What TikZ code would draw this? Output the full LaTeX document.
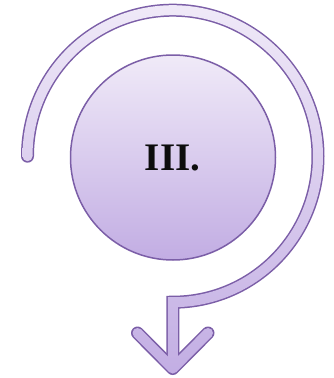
\documentclass[tikz,border=0pt]{standalone}
\usepackage{fontspec}
\setmainfont{Liberation Serif}
\usetikzlibrary{calc}
\definecolor{bord}{HTML}{7B5EA7}
\definecolor{topc}{HTML}{F0EAF8}
\definecolor{botc}{HTML}{C2ADE3}
\tikzset{
  bandborder/.style={draw=bord, line width=13pt},
}
\newcommand\bandshade{\shade[top color=topc, bottom color=botc] (0,0) rectangle (333,-378);}
\newcommand\hw{5.0}
\begin{document}
\begin{tikzpicture}[x=1pt,y=1pt]
  \useasboundingbox (0,0) rectangle (333,-378);
  \coordinate (s) at (27.5,-156.2);
  \coordinate (e) at (172.75,-366);
  \coordinate (t) at (172.75,-368.5);
  \coordinate (l) at (137.5,-333);
  \coordinate (r) at (208,-333);
  % band borders
  \path[bandborder, line cap=round, line join=miter] (s) arc[start angle=180, end angle=-90, x radius=145.25, y radius=146] -- (e);
  \path[bandborder, line cap=round, line join=round] (l) -- (t) -- (r);
  % band fill pieces, one common gradient
  \begin{scope}
    \clip ($(s)+(-\hw,0)$) arc[start angle=180, end angle=-90, x radius=145.25+\hw, y radius=146+\hw]
      -- ++(0,2*\hw) arc[start angle=-90, end angle=180, x radius=145.25-\hw, y radius=146-\hw] -- cycle;
    \bandshade
  \end{scope}
  \begin{scope}
    \clip (s) circle[radius=\hw];
    \bandshade
  \end{scope}
  \begin{scope}
    \clip ($(e)+(-\hw,0)$) rectangle (172.75+\hw,-302.2+\hw);
    \bandshade
  \end{scope}
  \begin{scope}
    \clip ($(l)!\hw pt!90:(t)$) -- ($(l)!\hw pt!-90:(t)$) -- ($(t)!\hw pt!90:(l)$) -- ($(t)!\hw pt!-90:(l)$) -- cycle;
    \bandshade
  \end{scope}
  \begin{scope}
    \clip ($(r)!\hw pt!90:(t)$) -- ($(r)!\hw pt!-90:(t)$) -- ($(t)!\hw pt!90:(r)$) -- ($(t)!\hw pt!-90:(r)$) -- cycle;
    \bandshade
  \end{scope}
  \begin{scope}
    \clip (l) circle[radius=\hw] (r) circle[radius=\hw];
    \bandshade
  \end{scope}
  \begin{scope}
    \clip (t) circle[radius=\hw];
    \bandshade
  \end{scope}
  % circle
  \node[circle, inner sep=0pt, minimum size=205pt, draw=bord, line width=1.5pt,
        top color=topc, bottom color=botc] (c) at (173,-157.5) {};
  \node[font=\bfseries\fontsize{39}{39}\selectfont, text=black!95] (lbl) at (172.5,-158.5) {III.};
\end{tikzpicture}
\end{document}
